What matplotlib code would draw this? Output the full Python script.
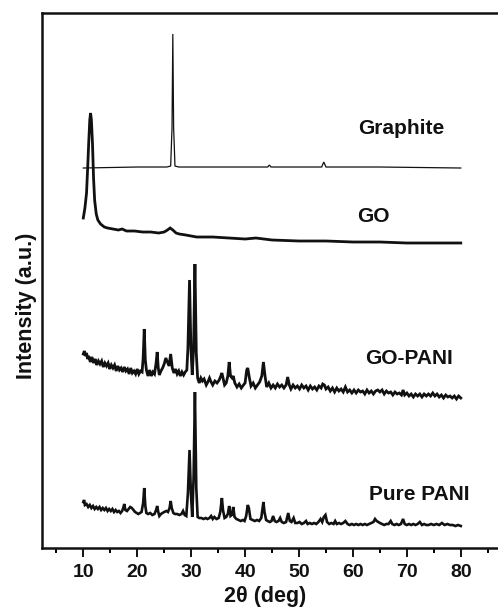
import matplotlib
matplotlib.use('Agg')
import matplotlib.pyplot as plt
from matplotlib.ticker import MultipleLocator

plt.rcParams['font.family'] = ['Liberation Sans', 'DejaVu Sans']
plt.rcParams['font.weight'] = 'bold'

# (2theta, intensity) vertices, offsets already included
graphite = [(10.0, 380), (20.0, 381), (25.5, 381), (26.2, 382), (26.45, 420), (26.6, 514),
            (26.75, 420), (27.0, 382), (27.7, 381), (35.0, 381), (44.2, 381), (44.5, 383),
            (44.8, 381), (54.2, 381), (54.6, 386), (55.0, 381), (65.0, 381), (80.0, 380)]

go = [(10.0, 330), (10.3, 340), (10.6, 355), (10.85, 385), (11.0, 405), (11.2, 428),
      (11.35, 435), (11.5, 428), (11.7, 405), (11.9, 370), (12.1, 348), (12.4, 334),
      (12.7, 328), (13.2, 324), (13.9, 321), (14.5, 320), (15.5, 319), (16.5, 318),
      (17.2, 319), (18.0, 317), (19.5, 317), (21.0, 316), (22.5, 316), (24.0, 315),
      (25.0, 316), (25.6, 318), (26.1, 320), (26.6, 318), (27.2, 315), (27.8, 314),
      (29.0, 313), (31.0, 311), (34.0, 311), (37.0, 310), (40.0, 309), (42.0, 310),
      (45.0, 308), (50.0, 307), (55.0, 307), (60.0, 306), (65.0, 306), (70.0, 305),
      (75.0, 305), (80.0, 305)]

go_pani = [(10.0, 194), (10.2, 197), (10.4, 192), (10.6, 195), (10.8, 189), (11.0, 192),
           (11.3, 186), (11.6, 191), (11.9, 185), (12.2, 189), (12.5, 183), (12.8, 187),
           (13.1, 184), (13.4, 187), (13.7, 181), (14.0, 185), (14.3, 182), (14.6, 185),
           (14.9, 179), (15.2, 183), (15.5, 180), (15.8, 183), (16.1, 177), (16.4, 182),
           (16.7, 178), (17.0, 180), (17.3, 176), (17.6, 181), (17.9, 177), (18.2, 179),
           (18.5, 174), (18.8, 180), (19.1, 175), (19.4, 177), (19.7, 174), (20.0, 179),
           (20.3, 174), (20.6, 177), (20.9, 176), (21.1, 190), (21.3, 219), (21.5, 188),
           (21.7, 178), (22.0, 172), (22.3, 178), (22.6, 172), (22.9, 176), (23.2, 174),
           (23.5, 185), (23.7, 196), (23.9, 180), (24.1, 173), (24.4, 177), (24.7, 180),
           (25.0, 184), (25.3, 190), (25.6, 186), (25.9, 182), (26.2, 194), (26.5, 180),
           (26.8, 175), (27.1, 179), (27.4, 174), (27.7, 177), (28.0, 172), (28.3, 176),
           (28.6, 173), (28.9, 176), (29.2, 178), (29.4, 200), (29.7, 268), (29.95, 200),
           (30.2, 173), (30.45, 200), (30.7, 284), (30.95, 195), (31.2, 170), (31.5, 165),
           (31.8, 170), (32.1, 167), (32.4, 169), (32.8, 163), (33.1, 166), (33.4, 170),
           (33.7, 166), (34.0, 163), (34.4, 167), (34.8, 165), (35.2, 168), (35.5, 172),
           (35.7, 175), (35.9, 170), (36.2, 163), (36.5, 165), (36.8, 172), (37.05, 186),
           (37.3, 172), (37.6, 170), (37.8, 172), (38.1, 165), (38.5, 161), (38.9, 164),
           (39.3, 160), (39.7, 163), (40.0, 165), (40.3, 178), (40.5, 180), (40.8, 170),
           (41.1, 162), (41.5, 165), (41.9, 160), (42.3, 163), (42.7, 166), (43.1, 172),
           (43.4, 186), (43.7, 172), (44.0, 161), (44.4, 165), (44.8, 160), (45.2, 163),
           (45.6, 160), (46.0, 164), (46.4, 161), (46.8, 163), (47.2, 160), (47.6, 163),
           (47.9, 171), (48.2, 163), (48.5, 159), (48.9, 163), (49.3, 160), (49.7, 162),
           (50.1, 159), (50.5, 163), (50.9, 160), (51.3, 162), (51.7, 158), (52.1, 162),
           (52.5, 159), (52.9, 161), (53.3, 158), (53.7, 162), (54.1, 160), (54.4, 164),
           (54.7, 163), (55.0, 159), (55.4, 161), (55.8, 157), (56.2, 160), (56.6, 156),
           (57.0, 160), (57.4, 157), (57.8, 159), (58.2, 156), (58.6, 161), (59.0, 156),
           (59.4, 158), (59.8, 155), (60.2, 158), (60.6, 155), (61.0, 158), (61.4, 156),
           (61.8, 157), (62.2, 154), (62.6, 158), (63.0, 155), (63.4, 157), (63.8, 154),
           (64.2, 157), (64.6, 158), (65.0, 156), (65.4, 158), (65.8, 154), (66.2, 157),
           (66.6, 155), (67.0, 156), (67.4, 153), (67.8, 156), (68.2, 154), (68.6, 155),
           (69.0, 153), (69.3, 158), (69.6, 153), (70.0, 155), (70.4, 152), (70.8, 154),
           (71.2, 151), (71.6, 154), (72.0, 152), (72.4, 154), (72.8, 151), (73.2, 154),
           (73.6, 152), (74.0, 154), (74.4, 152), (74.8, 155), (75.2, 152), (75.6, 154),
           (76.0, 151), (76.4, 153), (76.8, 150), (77.2, 153), (77.6, 151), (78.0, 152),
           (78.4, 150), (78.8, 152), (79.2, 149), (79.6, 152), (80.0, 150)]

pure_pani = [(10.0, 46), (10.15, 48), (10.3, 43), (10.6, 44), (10.9, 41), (11.2, 43),
             (11.5, 40), (11.8, 42), (12.1, 39), (12.4, 41), (12.7, 39), (13.0, 41),
             (13.3, 38), (13.6, 40), (13.9, 38), (14.2, 40), (14.5, 37), (14.8, 39),
             (15.1, 37), (15.4, 39), (15.7, 36), (16.0, 38), (16.3, 36), (16.6, 37),
             (16.9, 35), (17.2, 37), (17.4, 40), (17.6, 44), (17.8, 38), (18.1, 37),
             (18.4, 39), (18.7, 41), (19.0, 40), (19.3, 38), (19.6, 36), (19.9, 35),
             (20.2, 34), (20.5, 35), (20.8, 36), (21.1, 45), (21.3, 60), (21.5, 42),
             (21.7, 35), (22.0, 34), (22.4, 35), (22.8, 33), (23.2, 34), (23.5, 38),
             (23.7, 42), (23.9, 36), (24.1, 32), (24.4, 34), (24.7, 35), (25.0, 36),
             (25.4, 37), (25.7, 36), (26.0, 40), (26.2, 47), (26.4, 40), (26.7, 35),
             (27.0, 34), (27.4, 34), (27.8, 33), (28.2, 34), (28.5, 37), (28.8, 33),
             (29.1, 32), (29.4, 55), (29.7, 98), (29.95, 55), (30.2, 31), (30.45, 70),
             (30.7, 156), (30.95, 60), (31.2, 31), (31.5, 30), (31.9, 30), (32.3, 29),
             (32.7, 30), (33.0, 29), (33.4, 30), (33.7, 32), (34.0, 29), (34.3, 31),
             (34.7, 29), (35.1, 30), (35.4, 36), (35.7, 50), (35.9, 38), (36.2, 30),
             (36.5, 31), (36.8, 34), (37.05, 42), (37.3, 32), (37.55, 33), (37.8, 41),
             (38.05, 31), (38.4, 29), (38.8, 28), (39.2, 27), (39.6, 28), (39.9, 27),
             (40.2, 32), (40.5, 43), (40.7, 40), (41.0, 29), (41.4, 28), (41.8, 27),
             (42.2, 28), (42.6, 27), (43.0, 30), (43.2, 38), (43.4, 46), (43.6, 36),
             (43.9, 28), (44.2, 27), (44.6, 26), (44.9, 27), (45.2, 32), (45.5, 27),
             (45.8, 26), (46.2, 27), (46.5, 30), (46.8, 26), (47.2, 25), (47.6, 26),
             (48.0, 35), (48.3, 27), (48.6, 26), (49.0, 30), (49.3, 25), (49.7, 25),
             (50.1, 26), (50.5, 24), (50.9, 25), (51.3, 27), (51.6, 24), (52.0, 25),
             (52.4, 24), (52.8, 25), (53.2, 24), (53.6, 26), (54.0, 29), (54.3, 26),
             (54.6, 31), (54.9, 33), (55.2, 26), (55.6, 24), (56.0, 25), (56.4, 24),
             (56.7, 27), (57.0, 24), (57.4, 25), (57.8, 24), (58.2, 25), (58.6, 27),
             (59.0, 24), (59.4, 23), (59.8, 24), (60.2, 23), (60.6, 24), (61.0, 23),
             (61.4, 24), (61.8, 23), (62.2, 24), (62.6, 23), (63.0, 24), (63.4, 25),
             (63.8, 26), (64.1, 29), (64.4, 27), (64.7, 26), (65.0, 25), (65.4, 24),
             (65.8, 23), (66.2, 24), (66.6, 24), (67.0, 27), (67.3, 24), (67.7, 23),
             (68.1, 24), (68.5, 23), (68.9, 24), (69.3, 29), (69.6, 24), (70.0, 23),
             (70.4, 24), (70.8, 23), (71.2, 24), (71.6, 23), (72.0, 24), (72.4, 26),
             (72.8, 23), (73.2, 24), (73.6, 23), (74.0, 23), (74.5, 24), (75.0, 23),
             (75.5, 24), (76.0, 23), (76.5, 25), (77.0, 23), (77.5, 24), (78.0, 23),
             (78.5, 23), (79.0, 22), (79.5, 23), (80.0, 22)]

series = [
    # data, label, label x, label y, line width
    (graphite, 'Graphite', 61.0, 420, 0.9),
    (go, 'GO', 60.8, 332, 2.0),
    (go_pani, 'GO-PANI', 62.3, 190, 2.0),
    (pure_pani, 'Pure PANI', 62.9, 53, 1.9),
]

fig = plt.figure(figsize=(4.98, 6.14), dpi=100)
ax = fig.add_axes([0.0853, 0.1075, 0.9147, 0.8713])
ink = '#111111'

for data, name, lx, ly, lw in series:
    xs = [p[0] for p in data]
    ys = [p[1] for p in data]
    ax.plot(xs, ys, color=ink, lw=lw, solid_joinstyle='miter')
    ax.text(lx, ly, name, fontsize=15, fontweight='bold', color=ink,
            ha='left', va='center')

ax.set_xlim(2.43, 86.9)
ax.set_ylim(0, 535)
ax.xaxis.set_major_locator(MultipleLocator(10))
ax.xaxis.set_minor_locator(MultipleLocator(5))
ax.set_xticks(range(10, 81, 10))
ax.set_yticks([])
ax.tick_params(axis='x', which='major', length=6.5, width=1.4, direction='out',
               labelsize=14, pad=5, colors=ink)
ax.tick_params(axis='x', which='minor', length=3.5, width=1.4, direction='out')
for lab in ax.get_xticklabels():
    lab.set_fontweight('bold')
for side in ['left', 'top', 'bottom']:
    ax.spines[side].set_linewidth(1.8)
    ax.spines[side].set_color(ink)
ax.spines['right'].set_visible(False)

fig.text(0.054, 0.502, 'Intensity (a.u.)', rotation=90, fontsize=15.5,
         fontweight='bold', color=ink, ha='center', va='center')
fig.text(0.532, 0.028, '2\u03b8 (deg)', fontsize=15.5, fontweight='bold',
         color=ink, ha='center', va='center')

fig.savefig('out.png', dpi=100)
